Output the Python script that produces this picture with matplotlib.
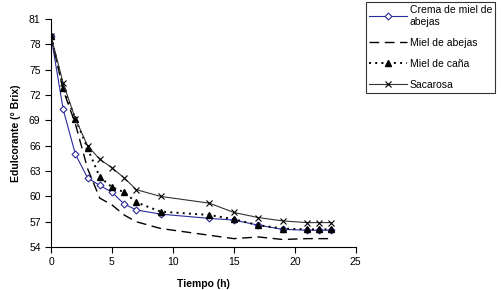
import matplotlib
matplotlib.use("Agg")
import matplotlib.pyplot as plt

plt.rcParams['font.family'] = ['Liberation Sans', 'DejaVu Sans']

# time (h)
tiempo = [0, 1, 2, 3, 4, 5, 6, 7, 9, 13, 15, 17, 19, 21, 22, 23]

crema = [79.0, 70.3, 65.0, 62.2, 61.3, 60.5, 59.1, 58.4, 57.9, 57.4, 57.2, 56.6, 56.1, 56.0, 56.0, 56.0]
abejas = [79.0, 72.6, 68.6, 63.3, 59.8, 59.0, 57.8, 57.0, 56.2, 55.4, 55.0, 55.2, 54.9, 55.0, 55.0, 55.0]
cana = [79.0, 72.9, 69.2, 65.7, 62.3, 61.1, 60.5, 59.3, 58.2, 57.8, 57.3, 56.6, 56.2, 56.1, 56.1, 56.1]
sacarosa = [79.0, 73.4, 69.2, 66.0, 64.4, 63.4, 62.2, 60.8, 60.0, 59.2, 58.1, 57.5, 57.1, 56.9, 56.9, 56.9]

labels = ["Crema de miel de\nabejas", "Miel de abejas", "Miel de caña", "Sacarosa"]
xticks = [0, 5, 10, 15, 20, 25]
yticks = [54, 57, 60, 63, 66, 69, 72, 75, 78, 81]

fig = plt.figure(figsize=(5.02, 2.90), dpi=100)
ax = fig.add_axes([0.1016, 0.148, 0.607, 0.786])

ax.plot(tiempo, crema, color='#2a2a9a', lw=0.8, marker='D', ms=3.5,
        mfc='white', mec='#2a2a9a', mew=0.8, label=labels[0])
ax.plot(tiempo, abejas, color='black', lw=1.0, ls=(0, (7, 4)), label=labels[1])
ax.plot(tiempo, cana, color='black', lw=1.4, ls=(0, (1, 2.2)), marker='^', ms=5,
        mfc='black', mec='black', label=labels[2])
ax.plot(tiempo, sacarosa, color='#333333', lw=0.8, marker='x', ms=5,
        mec='black', mew=0.8, label=labels[3])

ax.set_xlim(0, 25)
ax.set_ylim(54, 81)
ax.set_xticks(xticks)
ax.set_yticks(yticks)
ax.tick_params(labelsize=7.5, length=4, width=0.8, direction='out')
for s in ['top', 'right']:
    ax.spines[s].set_visible(False)
for s in ['left', 'bottom']:
    ax.spines[s].set_linewidth(0.8)

ax.set_xlabel("Tiempo (h)", fontsize=7.5, fontweight='bold', labelpad=8)
ax.set_ylabel("Edulcorante (° Brix)", fontsize=7.5, fontweight='bold', labelpad=6)

leg = fig.legend(loc='upper left', bbox_to_anchor=(0.725, 1.0),
                 fontsize=7.5, frameon=True, fancybox=False, edgecolor='black',
                 handlelength=3.6, labelspacing=1.05, borderpad=0.3,
                 handletextpad=0.3, borderaxespad=0.2)
leg.get_frame().set_linewidth(0.8)

fig.savefig("out.png", dpi=100)
